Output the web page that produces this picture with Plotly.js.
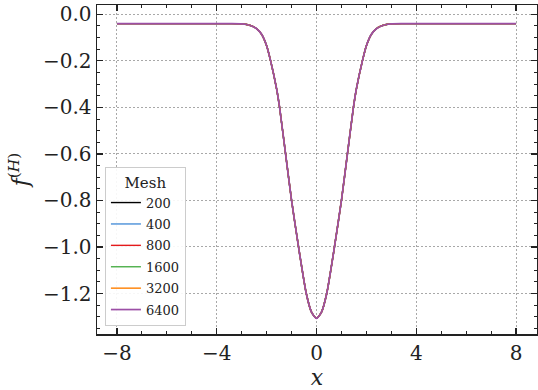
<!DOCTYPE html>
<html>
<head>
<meta charset="utf-8">
<script src="https://cdn.plot.ly/plotly-3.0.1.min.js"></script>
<style>html,body{margin:0;padding:0;background:#fff;}#chart{width:538px;height:390px;}</style>
</head>
<body>
<div id="chart"></div>
<script>
// Mesh sizes shown in legend
const meshes = ['200', '400', '800', '1600', '3200', '6400'];
const meshColors = ['#000000', '#4a90d9', '#e41a1c', '#4daf4a', '#ff7f00', '#9c4fa6'];
// x positions
const xVals = [-8, -6, -4, -3.4, -3.0, -2.8, -2.6, -2.4, -2.2, -2.0, -1.84, -1.6, -1.48, -1.24, -1.0, -0.72, -0.41, -0.2, 0,
               0.2, 0.41, 0.72, 1.0, 1.24, 1.48, 1.6, 1.84, 2.0, 2.2, 2.4, 2.6, 2.8, 3.0, 3.4, 4, 6, 8];
// f^(H) values (all meshes overlap visually)
const fH = [-0.040, -0.040, -0.040, -0.040, -0.041, -0.044, -0.050, -0.062, -0.086, -0.135, -0.200, -0.320, -0.400, -0.600, -0.800, -1.000, -1.200, -1.280, -1.307,
            -1.280, -1.200, -1.000, -0.800, -0.600, -0.400, -0.320, -0.200, -0.135, -0.086, -0.062, -0.050, -0.044, -0.041, -0.040, -0.040, -0.040, -0.040];
const xTicks = [-8, -4, 0, 4, 8];
const xTickText = ['−8', '−4', '0', '4', '8'];

const traces = meshes.map((m, i) => ({
  x: xVals, y: fH, type: 'scatter', mode: 'lines', name: m,
  legendgroup: 'g' + i,
  line: {color: meshColors[i], width: i === meshes.length - 1 ? 1.7 : 1.4, shape: 'spline', smoothing: 0.6}
}));

const FONT = 'DejaVu Serif, serif';
const layout = {
  width: 538, height: 390,
  margin: {l: 97, r: 1, t: 5, b: 56},
  paper_bgcolor: '#fff', plot_bgcolor: '#fff',
  font: {family: FONT, color: '#222', size: 20},
  showlegend: true,
  legend: {
    x: 0.018, y: 0.024, xanchor: 'left', yanchor: 'bottom',
    bgcolor: 'rgba(255,255,255,0.9)', bordercolor: '#cccccc', borderwidth: 1,
    font: {family: FONT, size: 13, color: '#222'},
    title: {text: 'Mesh', side: 'top center', font: {family: FONT, size: 15, color: '#222'}},
    tracegroupgap: 1.5,
    itemwidth: 30
  },
  xaxis: {
    range: [-8.8, 8.84],
    tickmode: 'array', tickvals: xTicks, ticktext: xTickText,
    ticks: 'inside', ticklen: 6, tickwidth: 1.3, tickcolor: '#222',
    minor: {ticks: 'inside', dtick: 1, tick0: 0, ticklen: 3, tickwidth: 1, tickcolor: '#222', showgrid: false},
    showline: true, linecolor: '#222', linewidth: 1.5, mirror: 'allticks',
    showgrid: true, gridcolor: '#a8a8a8', gridwidth: 1, griddash: '2px,2px',
    zeroline: false,
    tickfont: {family: FONT, size: 20, color: '#222'},
    title: {text: '<i>x</i>', font: {family: FONT, size: 22, color: '#222'}, standoff: 8}
  },
  yaxis: {
    range: [-1.374, 0.04],
    tickmode: 'linear', tick0: 0, dtick: 0.2, tickformat: '.1f',
    ticks: 'inside', ticklen: 6, tickwidth: 1.3, tickcolor: '#222',
    minor: {ticks: 'inside', dtick: 0.05, tick0: 0, ticklen: 3, tickwidth: 1, tickcolor: '#222', showgrid: false},
    showline: true, linecolor: '#222', linewidth: 1.5, mirror: 'allticks',
    showgrid: true, gridcolor: '#a8a8a8', gridwidth: 1, griddash: '2px,2px',
    zeroline: false,
    tickfont: {family: FONT, size: 20, color: '#222'},
    title: {text: '<i>f</i><sup>(<i>H</i>)</sup>', font: {family: FONT, size: 22, color: '#222'}, standoff: 8}
  }
};

Plotly.newPlot('chart', traces, layout, {displayModeBar: false, staticPlot: true});
</script>
</body>
</html>
